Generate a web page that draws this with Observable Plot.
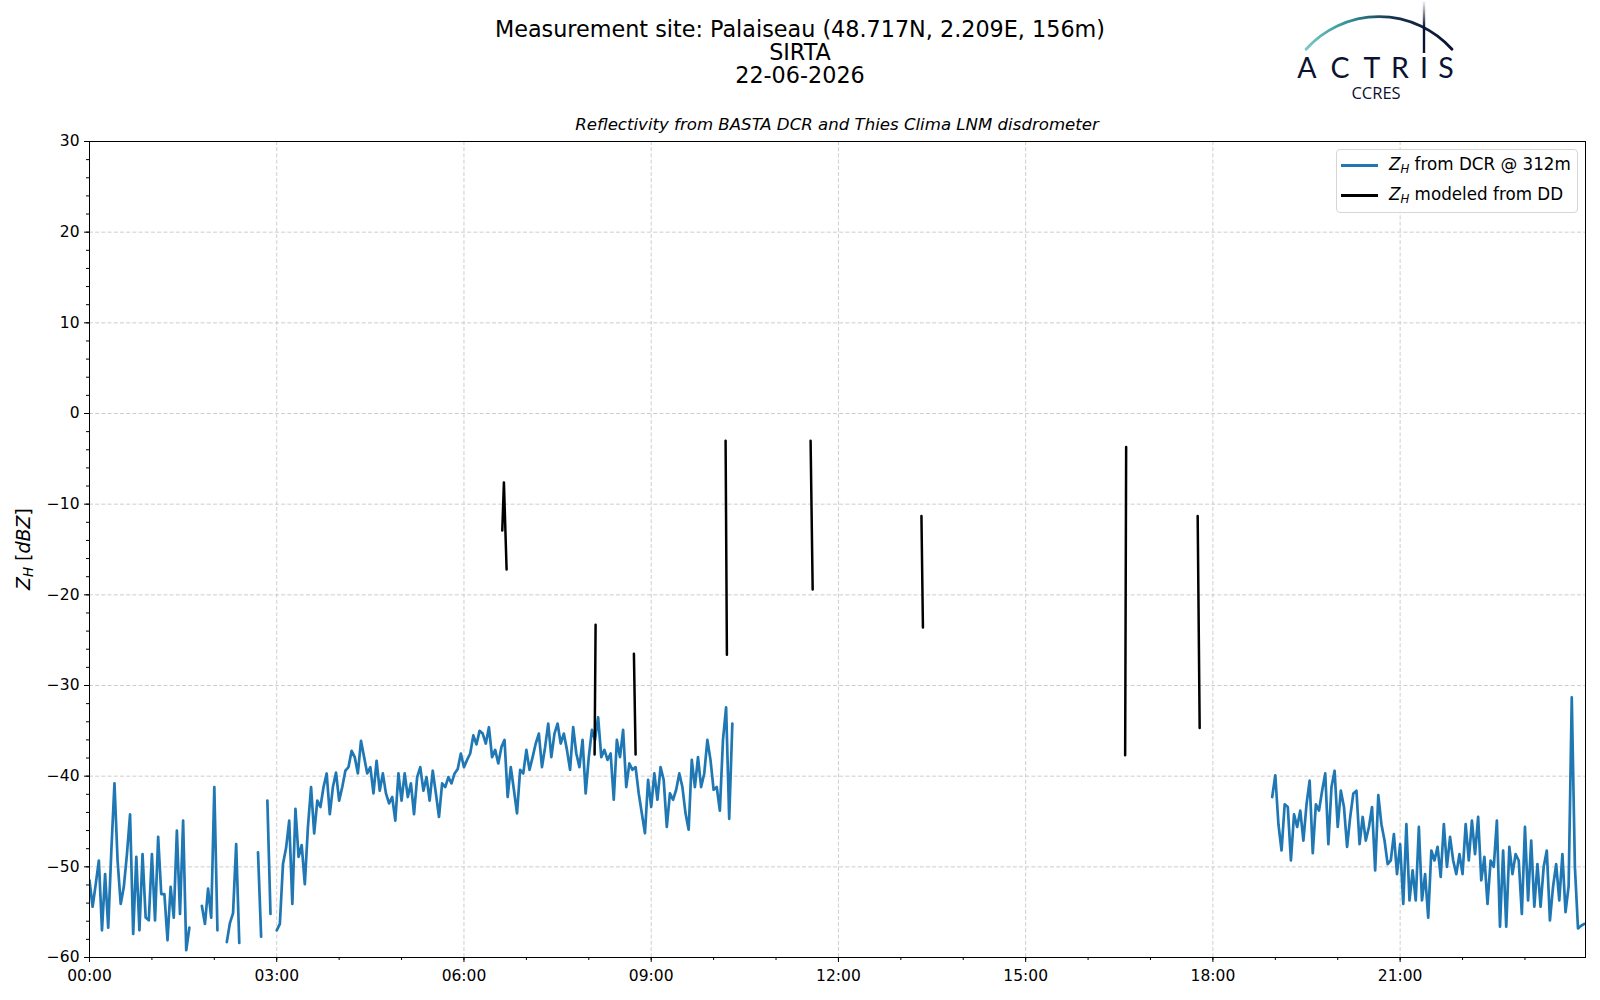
<!DOCTYPE html>
<html>
<head>
<meta charset="utf-8">
<script src="https://cdn.jsdelivr.net/npm/d3@7"></script>
<script src="https://cdn.jsdelivr.net/npm/@observablehq/plot@0.6"></script>
<style>
  html, body { margin: 0; padding: 0; background: #fff; }
  #wrap { position: relative; width: 1600px; height: 1000px; background: #fff; font-family: "DejaVu Sans", sans-serif; color: #000; overflow: hidden; }
  #chart { position: absolute; left: 0; top: 100px; }
  #chart svg text { font-size: 15.5px; font-family: "DejaVu Sans", sans-serif; }
  .ttl { position: absolute; left: 0; width: 1600px; text-align: center; font-size: 22.3px; line-height: 24px; white-space: nowrap; }
  #subtitle { position: absolute; left: 89px; width: 1496px; top: 115px; text-align: center; font-size: 16.6px; line-height: 20px; font-style: italic; white-space: nowrap; }
  #ylabel { position: absolute; left: 22.5px; top: 549px; transform: translate(-50%, -50%) rotate(-90deg); font-size: 19px; white-space: nowrap; line-height: 22px; }
  #ylabel sub { font-size: 0.7em; vertical-align: -0.25em; line-height: 0; }
  #legend { position: absolute; left: 1336px; top: 149px; width: 240px; height: 62px; border: 1px solid #d6d6d6; border-radius: 4px; background: rgba(255,255,255,0.85); }
  .lgline { position: absolute; left: 4px; width: 37px; height: 2.6px; }
  .lgtext { position: absolute; left: 52px; font-size: 16.75px; line-height: 20px; white-space: nowrap; }
  .lgtext sub { font-size: 0.7em; vertical-align: -0.25em; line-height: 0; font-style: italic; }
</style>
</head>
<body>
<div id="wrap">
  <div id="chart"></div>
  <div class="ttl" style="top:17px">Measurement site: Palaiseau (48.717N, 2.209E, 156m)</div>
  <div class="ttl" style="top:40px">SIRTA</div>
  <div class="ttl" style="top:63px">22-06-2026</div>
  <svg id="logo" width="1600" height="110" style="position:absolute;left:0;top:0;overflow:visible">
    <defs>
      <linearGradient id="arcGrad" x1="1306" y1="0" x2="1452" y2="0" gradientUnits="userSpaceOnUse">
        <stop offset="0" stop-color="#7cc8c4"/>
        <stop offset="0.3" stop-color="#2f8f96"/>
        <stop offset="0.6" stop-color="#15304f"/>
        <stop offset="1" stop-color="#0c1232"/>
      </linearGradient>
      <linearGradient id="vGrad" x1="0" y1="0" x2="0" y2="54" gradientUnits="userSpaceOnUse">
        <stop offset="0" stop-color="#0c1232" stop-opacity="0"/>
        <stop offset="0.5" stop-color="#0c1232" stop-opacity="1"/>
        <stop offset="1" stop-color="#0c1232" stop-opacity="1"/>
      </linearGradient>
    </defs>
    <path d="M1306,49.3 A98,98 0 0 1 1452,49.3" fill="none" stroke="url(#arcGrad)" stroke-width="2.8" stroke-linecap="round"/>
    <line x1="1424" y1="1" x2="1424" y2="53" stroke="url(#vGrad)" stroke-width="2.4"/>
    <g font-family="Lato, 'DejaVu Sans', sans-serif" font-size="28.5" fill="#0c1232" text-anchor="middle">
      <text x="1307" y="77.5">A</text>
      <text x="1340" y="77.5">C</text>
      <text x="1372" y="77.5">T</text>
      <text x="1400" y="77.5">R</text>
      <text x="1424" y="77.5">I</text>
      <text x="1446" y="77.5">S</text>
    </g>
    <text x="1376" y="99" font-family="'Open Sans', 'DejaVu Sans', sans-serif" font-size="16.5" fill="#0c1232" text-anchor="middle">CCRES</text>
  </svg>
  <div id="subtitle">Reflectivity from BASTA DCR and Thies Clima LNM disdrometer</div>
  <div id="ylabel"><i>Z</i><sub><i>H</i></sub> [<i>dBZ</i>]</div>
  <div id="legend">
    <div class="lgline" style="top:14px;background:#1f77b4"></div>
    <div class="lgtext" style="top:4px"><i>Z</i><sub>H</sub> from DCR @ 312m</div>
    <div class="lgline" style="top:44px;background:#000"></div>
    <div class="lgtext" style="top:34px"><i>Z</i><sub>H</sub> modeled from DD</div>
  </div>
</div>
<script>
// ---- DATA ----
// DCR reflectivity at 312 m, 3-minute samples (dBZ); null = no data
const dcrStepMin = 3;
const dcrMorningStart = 0;      // hours
const dcrMorning = [
  -51.5, -54.4, -51.9, -49.3, -57.0, -50.8, -56.7, -48.2, -40.8, -49.3,
  -54.1, -52.2, -48.6, -44.2, -57.4, -48.9, -57.0, -48.6, -55.6, -55.9,
  -48.6, -55.9, -46.7, -53.0, -53.0, -58.1, -52.2, -55.6, -46.0, -55.2,
  -44.9, -59.2, -56.7, null, null, null, -54.3, -56.3, -52.4, -55.6,
  -41.2, -57.0, null, null, -58.3, -56.2, -55.1, -47.5, -58.4, null,
  null, null, null, null, -48.4, -57.7, null, -42.7, -55.2, null,
  -57.0, -56.3, -49.7, -47.9, -44.9, -54.1, -43.6, -48.9, -47.6, -51.9,
  -45.6, -41.2, -46.3, -42.7, -43.4, -41.2, -39.7, -44.2, -41.2, -39.6,
  -42.7, -41.2, -39.4, -39.0, -37.2, -37.9, -39.7, -36.1, -37.9, -39.7,
  -39.0, -41.9, -38.3, -41.6, -39.7, -41.9, -43.0, -42.3, -44.9, -39.7,
  -42.7, -39.7, -42.3, -40.8, -44.2, -40.1, -39.0, -41.6, -40.1, -42.7,
  -39.4, -41.9, -44.5, -40.8, -41.2, -40.1, -40.8, -39.7, -39.2, -37.5,
  -39.0, -38.2, -37.5, -35.5, -36.5, -35.0, -35.3, -36.4, -34.6, -37.9,
  -37.1, -38.6, -36.8, -36.0, -42.3, -39.0, -41.5, -44.1, -39.3, -39.7,
  -37.1, -39.3, -37.9, -36.4, -35.3, -39.0, -36.8, -34.2, -37.9, -35.3,
  -34.2, -36.4, -35.3, -37.1, -39.3, -34.6, -37.5, -39.0, -36.0, -41.9,
  -37.9, -34.9, -36.0, -33.5, -37.9, -37.1, -38.2, -37.5, -42.6, -36.0,
  -37.9, -34.9, -41.2, -38.6, -39.3, -39.0, -41.9, -44.1, -46.3, -40.4,
  -43.4, -39.7, -42.6, -39.0, -40.4, -45.6, -41.9, -42.6, -41.5, -39.7,
  -41.2, -44.1, -45.9, -38.2, -41.2, -37.9, -41.2, -39.7, -36.0, -38.2,
  -41.5, -41.2, -43.8, -36.0, -32.4, -44.7, -34.2
];
const dcrEveningStart = 18.95;  // hours
const dcrEvening = [
  -42.3, -39.9, -45.3, -48.2, -43.1, -43.4, -49.3, -44.2, -45.6, -43.8,
  -47.1, -43.1, -40.5, -48.5, -43.1, -43.8, -41.6, -39.7, -47.5, -41.2,
  -39.4, -45.6, -41.6, -43.4, -47.8, -44.5, -41.9, -41.6, -47.5, -44.5,
  -47.1, -45.6, -43.4, -50.4, -42.1, -45.3, -47.1, -49.7, -49.3, -46.4,
  -50.8, -47.5, -54.1, -45.3, -53.7, -50.4, -53.7, -45.6, -53.7, -50.8,
  -55.6, -48.2, -49.3, -47.8, -51.1, -45.3, -50.0, -46.7, -49.3, -50.8,
  -48.6, -50.8, -45.3, -49.3, -44.9, -48.6, -44.5, -51.5, -48.9, -54.1,
  -49.3, -50.0, -44.9, -56.6, -48.2, -56.6, -47.8, -50.8, -48.6, -49.3,
  -55.2, -45.6, -53.7, -47.1, -54.4, -49.7, -54.4, -50.0, -48.2, -55.9,
  -52.2, -49.7, -53.7, -48.6, -55.0, -52.1, -31.3, -50.0, -56.8, -56.5,
  -56.3
];
// Reflectivity modeled from disdrometer (DD) rain events
const ddEvent = [1, 1, 1, 2, 2, 3, 3, 4, 4, 5, 5, 6, 6, 7, 7, 8, 8];
const ddTime  = [6.614, 6.64, 6.683, 8.093, 8.109, 8.723, 8.75, 10.192, 10.213,
                 11.554, 11.587, 13.33, 13.354, 16.594, 16.61, 17.756, 17.788];
const ddValue = [-12.9, -7.6, -17.2, -37.6, -23.3, -26.5, -37.6, -3.0, -26.6,
                 -3.0, -19.4, -11.3, -23.6, -37.7, -3.7, -11.3, -34.7];
// Axis ticks
const xMajorTicks = [0, 3, 6, 9, 12, 15, 18, 21];
const xMinorTicks = d3.range(0, 24, 1);
const yMajorTicks = [-60, -50, -40, -30, -20, -10, 0, 10, 20, 30];
const yMinorTicks = d3.range(-60, 31, 2);
const xDomain = [0, 23.97];
const yDomain = [-60, 30];

// ---- BUILD TABLES ----
const dcr = [
  ...dcrMorning.map((v, i) => ({t: dcrMorningStart + i * dcrStepMin / 60, v, seg: "am"})),
  ...dcrEvening.map((v, i) => ({t: dcrEveningStart + i * dcrStepMin / 60, v, seg: "pm"}))
];
const dd = ddTime.map((t, i) => ({t, v: ddValue[i], event: ddEvent[i]}));

const fmtX = d => String(d).padStart(2, "0") + ":00";
const fmtY = d => d < 0 ? "\u2212" + Math.abs(d) : String(d);
const gridStyle = {stroke: "#c8c8c8", strokeWidth: 0.9, strokeDasharray: "4,2.2", strokeOpacity: 1};

const chart = Plot.plot({
  width: 1600,
  height: 900,
  marginTop: 41,
  marginBottom: 43,
  marginLeft: 89,
  marginRight: 15,
  style: {fontFamily: "DejaVu Sans, sans-serif", fontSize: "15.5px", color: "#000", background: "transparent", overflow: "visible"},
  x: {domain: xDomain, label: null},
  y: {domain: yDomain, label: null},
  marks: [
    Plot.gridX(xMajorTicks.slice(1), gridStyle),
    Plot.gridY(yMajorTicks.slice(1, -1), gridStyle),
    Plot.line(dcr, {x: "t", y: "v", z: "seg", stroke: "#1f77b4", strokeWidth: 2.7, clip: true, strokeLinejoin: "round"}),
    Plot.line(dd, {x: "t", y: "v", z: "event", stroke: "#000", strokeWidth: 2.5, clip: true}),
    Plot.axisX(xMajorTicks, {tickSize: 5, tickPadding: 7, tickFormat: fmtX, label: null, fontSize: 15.5}),
    Plot.axisX(xMinorTicks, {tickSize: 3, tickFormat: () => "", label: null}),
    Plot.axisY(yMajorTicks, {tickSize: 5, tickPadding: 5, tickFormat: fmtY, label: null, fontSize: 15.5}),
    Plot.axisY(yMinorTicks, {tickSize: 3, tickFormat: () => "", label: null}),
    Plot.frame({stroke: "#000", strokeWidth: 1})
  ]
});
document.getElementById("chart").appendChild(chart);
</script>
</body>
</html>
